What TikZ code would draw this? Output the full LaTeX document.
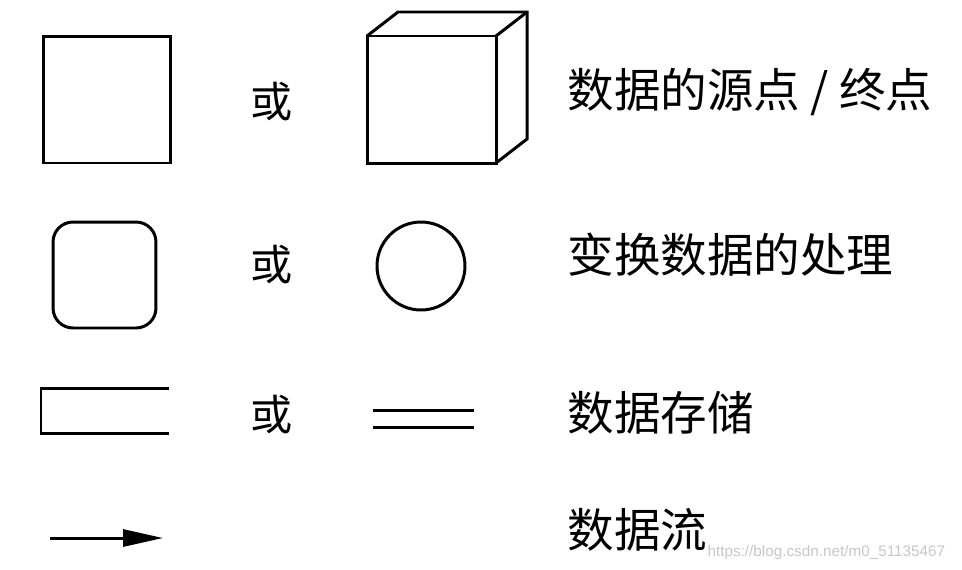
\documentclass[tikz,border=0pt]{standalone}
\usepackage{fontspec}
\setmainfont{Liberation Sans}
\newfontfamily\cjk{Noto Sans CJK SC}
\usetikzlibrary{arrows.meta}

\begin{document}
\begin{tikzpicture}[x=0.02cm, y=-0.02cm, line width=1.7pt,
	label/.style={font=\cjk\fontsize{26.5}{30}\selectfont, inner sep=0pt, anchor=west},
	orword/.style={font=\cjk\fontsize{24}{28}\selectfont, inner sep=0pt},
	shp/.style={draw, inner sep=0pt, line width=1.7pt}]
	\useasboundingbox (0,0) rectangle (962,569);
	% symbols, left column
	\node[shp, minimum width=2.56cm, minimum height=2.54cm] (src) at (107,99.5) {};
	\node[shp, rounded corners=0.4cm, minimum width=2.06cm, minimum height=2.12cm] (proc) at (104.5,275) {};
	\draw (169,388) -- (41,388) -- (41,433) -- (169,433);
	\coordinate (flowA) at (50,538);
	\coordinate (flowB) at (163,538);
	\draw[-{Triangle[length=0.8cm, width=0.34cm]}] (flowA) -- (flowB);
	% the word between the two forms
	\foreach \y/\n in {102/1, 265/2, 415/3}
		\node[orword] (or\n) at (272,\y) {或};
	% symbols, right column
	\draw (367,36) rectangle (496,163);
	\draw (367,36) -- (398,12) -- (527,12) -- (527,139) -- (496,163);
	\draw (496,36) -- (527,12);
	\node[shp, circle, minimum size=1.76cm] (bubble) at (421,266) {};
	\draw (373,410) -- (474,410);
	\draw (373,427) -- (474,427);
	% labels
	\node[label] (lsrc) at (566,92) {数据的源点 / 终点};
	\node[label] (lproc) at (566,255) {变换数据的处理};
	\node[label] (lstore) at (566,413) {数据存储};
	\node[label] (lflow) at (566,530) {数据流};
	\node[font=\fontsize{8.7}{10}\selectfont, text=black!22, inner sep=0pt, anchor=base west] (mark) at (706,556) {https://blog.csdn.net/m0\_51135467};
\end{tikzpicture}
\end{document}
